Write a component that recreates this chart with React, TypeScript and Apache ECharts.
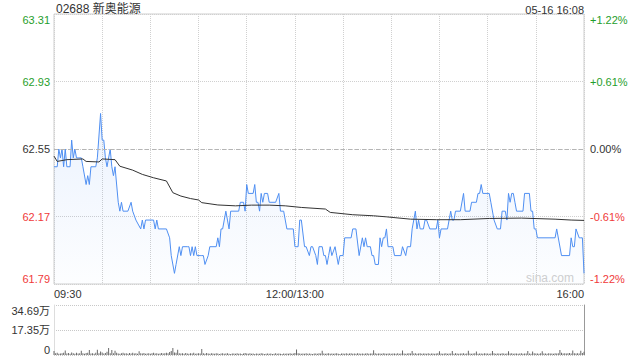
import React, { useEffect, useRef } from "react";
import * as echarts from "echarts";

const prevClose = 62.55;
const titleText = "02688 新奥能源";
const dateText = "05-16 16:08";
const priceTicks = ["61.79", "62.17", "62.55", "62.93", "63.31"];
const pctTicks = ["-1.22%", "-0.61%", "0.00%", "+0.61%", "+1.22%"];
const volTicks = ["0", "17.35万", "34.69万"];
const timeLabels: Record<number, string> = { 0: "09:30", 150: "12:00/13:00", 330: "16:00" };

// minute index (0 = 09:30, 150 = 12:00/13:00, 330 = 16:00) and price
const priceT = [
  0, 2, 3, 4, 5, 6, 7, 8, 10, 11, 12, 13, 14, 15, 17, 18, 20, 21, 22, 23, 26, 27, 29, 30, 31, 32, 33, 35, 36, 37, 38,
  40, 41, 42, 43, 46, 48, 49, 51, 54, 55, 56, 57, 62, 63, 64, 65, 70, 72, 73, 75, 76, 78, 79, 80, 83,
  84, 85, 86, 87, 88, 89, 91, 92, 93, 94, 96, 97, 101, 102, 103, 104, 105, 106, 107, 108, 109, 110, 115, 116, 118, 119,
  120, 121, 124, 125, 126, 127, 128, 129, 130, 131, 133, 134, 138, 140, 141, 143, 145, 149, 150, 152, 153, 154, 156, 157,
  159, 160, 161, 163, 164, 165, 167, 168, 169, 170, 171, 172, 173, 175, 176, 177, 178, 180, 181, 185, 186, 188, 190,
  192, 193, 194, 195, 197, 198, 199, 200, 202, 203, 204, 205, 206, 207, 208, 211, 212, 216, 217, 219, 220, 222, 223, 224,
  225, 226, 227, 228, 230, 231, 232, 234, 238, 239, 240, 241, 245, 247, 248, 249, 250, 253, 255, 256, 259, 260, 263, 264,
  265, 266, 267, 271, 272, 274, 276, 278, 279, 281, 282, 283, 284, 285, 286, 287, 288, 292, 293, 296, 297, 298, 299, 300,
  301, 312, 313, 316, 321, 322, 323, 324, 325, 327, 328, 329, 330,
];
const priceV = [
  62.45, 62.45, 62.55, 62.5, 62.55, 62.45, 62.55, 62.45, 62.45, 62.6, 62.5, 62.55, 62.5, 62.5, 62.5, 62.45, 62.35, 62.4, 62.35, 62.45, 62.45, 62.5, 62.75, 62.6, 62.6, 62.5, 62.45, 62.55, 62.45, 62.4, 62.45,
  62.25, 62.2, 62.25, 62.2, 62.2, 62.25, 62.2, 62.15, 62.1, 62.15, 62.1, 62.15, 62.15, 62.1, 62.15, 62.1, 62.1, 62.05, 61.95, 61.85, 61.9, 62.0, 61.95, 62.0, 62.0,
  62.0, 61.95, 62.0, 61.95, 62.0, 61.95, 61.95, 61.95, 61.95, 61.9, 61.95, 62.0, 62.0, 62.05, 62.0, 62.1, 62.1, 62.15, 62.2, 62.15, 62.1, 62.2, 62.2, 62.25, 62.25, 62.2,
  62.35, 62.3, 62.3, 62.35, 62.25, 62.25, 62.2, 62.3, 62.25, 62.3, 62.3, 62.25, 62.25, 62.3, 62.2, 62.2, 62.1, 62.1, 62.0, 62.0, 62.15, 62.15, 62.0, 62.0,
  61.95, 62.0, 62.0, 61.95, 61.9, 62.0, 62.0, 61.95, 61.95, 61.9, 61.95, 62.0, 61.95, 62.0, 61.95, 61.9, 61.95, 61.95, 62.05, 62.05, 62.1, 62.1, 61.95,
  62.05, 62.0, 62.05, 62.0, 62.0, 61.95, 61.95, 61.9, 61.9, 62.05, 62.0, 62.05, 62.05, 62.1, 62.0, 62.0, 61.95, 61.95, 62.0, 61.95, 62.0, 62.0, 62.1, 62.15,
  62.2, 62.1, 62.15, 62.1, 62.1, 62.15, 62.15, 62.1, 62.1, 62.15, 62.05, 62.1, 62.1, 62.2, 62.15, 62.15, 62.2, 62.2, 62.3, 62.2, 62.2, 62.25, 62.25, 62.3,
  62.3, 62.35, 62.3, 62.3, 62.25, 62.15, 62.1, 62.1, 62.2, 62.2, 62.15, 62.3, 62.25, 62.3, 62.3, 62.25, 62.2, 62.2, 62.3, 62.3, 62.2, 62.2, 62.1, 62.1,
  62.05, 62.05, 62.1, 61.95, 61.95, 62.05, 62.0, 62.0, 62.1, 62.05, 62.05, 62.05, 61.85,
];

// average price line
const avgT = [0, 2, 8, 18, 20, 28, 30, 38, 41, 49, 55, 62, 70, 74, 79, 85, 90, 92, 102, 113, 123, 134, 144, 154, 169, 172, 186, 199, 207, 222, 238, 253, 271, 291, 312, 322, 330];
const avgV = [62.51, 62.48, 62.49, 62.494, 62.48, 62.477, 62.494, 62.49, 62.453, 62.431, 62.407, 62.388, 62.37, 62.304, 62.285, 62.271, 62.263, 62.248, 62.235, 62.23, 62.234, 62.234, 62.23, 62.221, 62.212, 62.193, 62.18, 62.174, 62.168, 62.155, 62.152, 62.152, 62.159, 62.161, 62.155, 62.15, 62.148];

// per-minute volume, 万
const volume = [
  2.8, 1.2, 1.5, 0.9, 1.1, 1.3, 1.6, 3.2, 1.0, 1.4, 0.8, 1.7, 1.2, 0.9, 1.5, 1.1, 1.3, 3.0, 1.2, 0.9, 1.4, 1.6, 3.4, 1.1, 1.3, 0.8, 1.5, 3.6, 1.2, 2.4,
  1.8, 1.1, 1.4, 2.2, 4.8, 1.3, 3.5, 1.2, 3.0, 1.6, 1.1, 0.9, 1.3, 1.5, 1.0, 1.2, 0.8, 1.4, 1.1, 1.6, 1.0, 1.3, 0.9, 2.6, 1.2, 1.0, 1.4, 0.8, 1.1, 1.3,
  0.9, 1.2, 1.5, 1.0, 1.3, 0.8, 1.1, 1.4, 1.0, 1.2, 1.6, 1.3, 2.0, 2.8, 4.9, 1.8, 1.5, 3.6, 1.2, 1.0, 1.3, 0.9, 1.4, 1.1, 0.8, 1.2, 1.0, 1.5, 0.9, 1.1,
  1.3, 1.0, 4.2, 1.2, 0.9, 1.4, 1.0, 0.8, 1.2, 1.1, 0.9, 1.3, 1.0, 0.7, 1.1, 1.2, 0.8, 1.0, 1.3, 0.9, 0.7, 1.1, 1.0, 0.8, 1.2, 0.9, 1.0, 0.7, 1.1, 1.4,
  1.0, 0.8, 1.2, 0.9, 1.1, 0.7, 1.0, 0.9, 0.8, 1.2, 1.0, 0.7, 0.9, 1.1, 0.8, 1.0, 0.7, 0.9, 1.2, 0.8, 1.0, 0.9, 0.7, 1.1, 0.8, 1.0, 0.9, 1.2, 0.8, 1.0,
  1.4, 3.8, 1.2, 1.0, 0.8, 1.1, 0.9, 1.2, 0.8, 1.0, 0.9, 0.7, 1.1, 1.0, 0.8, 1.2, 1.0, 2.9, 1.1, 0.8, 1.0, 1.3, 0.9, 1.1, 0.8, 1.0, 1.2, 0.9, 0.7, 1.1,
  1.0, 0.8, 1.2, 0.9, 1.1, 1.3, 0.8, 1.0, 0.9, 1.2, 1.0, 0.8, 1.1, 0.9, 1.0, 1.2, 0.8, 1.1, 1.0, 3.3, 1.2, 0.9, 1.0, 1.1, 0.8, 1.3, 1.0, 0.9, 1.1, 1.0,
  0.8, 1.1, 1.0, 0.9, 1.2, 0.8, 1.0, 3.1, 1.1, 0.9, 1.0, 1.2, 1.0, 2.8, 1.1, 1.3, 0.9, 1.0, 1.2, 0.8, 1.1, 1.0, 0.9, 1.2, 0.8, 1.0, 1.1, 0.9, 1.0, 1.3,
  2.6, 1.0, 0.9, 1.1, 1.2, 0.8, 1.0, 1.1, 2.7, 0.9, 1.2, 1.0, 0.8, 1.1, 1.0, 1.3, 0.9, 1.0, 2.9, 1.1, 0.8, 1.0, 1.2, 2.5, 0.9, 1.1, 1.0, 0.8, 1.2, 1.0,
  1.1, 0.9, 1.0, 2.8, 1.2, 0.9, 1.1, 1.0, 0.8, 1.2, 1.0, 0.9, 1.1, 2.6, 1.0, 1.2, 0.9, 1.0, 1.1, 0.8, 1.0, 1.2, 0.9, 1.1, 1.0, 2.7, 1.1, 0.9, 2.4, 1.2,
  1.0, 1.1, 0.9, 1.2, 2.6, 1.0, 1.1, 0.9, 1.2, 1.0, 1.1, 0.9, 1.3, 1.0, 1.2, 3.4, 1.5, 1.1, 1.3, 1.0, 1.2, 1.4, 1.1, 3.1, 1.2, 1.0, 1.3, 1.1, 2.9, 1.4, 2.2,
];

const FONT = '"Liberation Sans", Arial, "Noto Sans CJK SC", sans-serif';
const GREEN = "#1f9e2c";
const RED = "#f03a3a";
const DARK = "#333";

const PSTEP = 0.38;
const PMIN = -2 * PSTEP;
const PMAX = 2 * PSTEP;
const tickIdx = (v: number) => Math.round((v - PMIN) / PSTEP);
const tickColor = (v: any) => {
  const n = Number(v);
  if (Math.abs(n) < 1e-6) return DARK;
  return n > 0 ? GREEN : RED;
};

export default function App() {
  const ref = useRef<HTMLDivElement>(null);
  useEffect(() => {
    if (!ref.current) return;
    const chart = echarts.init(ref.current, null, { renderer: "svg" });
    const priceData = priceT.map((t, i) => [t, +(priceV[i] - prevClose).toFixed(4)]);
    const avgData = avgT.map((t, i) => [t, +(avgV[i] - prevClose).toFixed(4)]);
    const volData = volume.map((v, i) => [i, v]);
    const VSTEP = 34.69 / 2;

    chart.setOption({
      animation: false,
      textStyle: { fontFamily: FONT },
      grid: [
        { left: 54, top: 14, width: 530, height: 270, show: true, borderColor: "#cfcfcf", borderWidth: 1 },
        { left: 54, top: 305, width: 530, height: 50 },
      ],
      graphic: [
        { type: "text", left: 56, top: 3, style: { text: titleText, fontSize: 12, fill: DARK, fontFamily: FONT } },
        { type: "text", right: 56, top: 4, style: { text: dateText, fontSize: 11, fill: DARK, fontFamily: FONT } },
        { type: "text", right: 66, top: 272, style: { text: "sina.com", fontSize: 12, fill: "#cfcfcf", fontFamily: FONT } },
      ],
      xAxis: [
        {
          type: "value", gridIndex: 0, min: 0, max: 330, interval: 30,
          axisLine: { show: false }, axisTick: { show: false },
          splitLine: { show: true, lineStyle: { type: "dotted", color: "#d0d0d0", width: 1 } },
          axisLabel: {
            interval: 0, margin: 4, fontSize: 11, color: DARK, fontFamily: FONT,
            showMinLabel: true, showMaxLabel: true,
            alignMinLabel: "left", alignMaxLabel: "right",
            formatter: (v: number) => timeLabels[Math.round(v)] || "",
          },
        },
        {
          type: "value", gridIndex: 1, min: 0, max: 330, interval: 30,
          axisLine: { show: false }, axisTick: { show: false }, axisLabel: { show: false },
          splitLine: { show: false },
        },
      ],
      yAxis: [
        {
          type: "value", gridIndex: 0, position: "left", min: PMIN, max: PMAX, interval: PSTEP,
          axisLine: { show: false }, axisTick: { show: false },
          splitLine: { show: true, lineStyle: { type: "dotted", color: "#d0d0d0", width: 1 } },
          axisLabel: {
            margin: 4, fontSize: 11, fontFamily: FONT, color: tickColor,
            showMinLabel: true, showMaxLabel: true,
            verticalAlignMinLabel: "bottom", verticalAlignMaxLabel: "top",
            formatter: (v: number) => priceTicks[tickIdx(v)] ?? "",
          },
        },
        {
          type: "value", gridIndex: 0, position: "right", min: PMIN, max: PMAX, interval: PSTEP,
          axisLine: { show: false }, axisTick: { show: false }, splitLine: { show: false },
          axisLabel: {
            margin: 6, fontSize: 11, fontFamily: FONT, color: tickColor,
            showMinLabel: true, showMaxLabel: true,
            verticalAlignMinLabel: "bottom", verticalAlignMaxLabel: "top",
            formatter: (v: number) => pctTicks[tickIdx(v)] ?? "",
          },
        },
        {
          type: "value", gridIndex: 1, position: "left", min: 0, max: 34.69, interval: VSTEP,
          axisLine: { show: true, lineStyle: { color: "#dddddd" } }, axisTick: { show: false },
          splitLine: { show: true, lineStyle: { type: "dotted", color: "#c8c8c8", width: 1 } },
          axisLabel: {
            margin: 4, fontSize: 11, fontFamily: FONT, color: DARK,
            showMinLabel: true, showMaxLabel: true,
            verticalAlignMinLabel: "bottom", verticalAlignMaxLabel: "top",
            formatter: (v: number) => volTicks[Math.round(v / VSTEP)] ?? "",
          },
        },
        {
          type: "value", gridIndex: 1, position: "right", min: 0, max: 34.69, interval: VSTEP,
          axisLine: { show: true, lineStyle: { color: "#999999" } }, axisTick: { show: false },
          splitLine: { show: false }, axisLabel: { show: false },
        },
      ],
      series: [
        {
          type: "line", xAxisIndex: 0, yAxisIndex: 0, data: priceData, symbol: "none",
          lineStyle: { color: "#4f8ff2", width: 1 },
          areaStyle: {
            origin: "start",
            color: new echarts.graphic.LinearGradient(0, 0, 0, 1, [
              { offset: 0, color: "rgba(79,143,242,0.16)" },
              { offset: 1, color: "rgba(79,143,242,0.02)" },
            ]),
          },
          markLine: {
            silent: true, symbol: "none", label: { show: false },
            lineStyle: { type: [4, 3], color: "#b5b5b5", width: 1 },
            data: [{ yAxis: 0 }],
          },
          z: 3,
        },
        {
          type: "line", xAxisIndex: 0, yAxisIndex: 0, data: avgData, symbol: "none",
          lineStyle: { color: "#333333", width: 1 }, z: 4,
        },
        {
          type: "bar", xAxisIndex: 1, yAxisIndex: 2, data: volData, barWidth: 1,
          itemStyle: { color: "#6a6a6a" },
        },
      ],
    });
    return () => chart.dispose();
  }, []);
  return (
    <div
      ref={ref}
      style={{ position: "fixed", left: 0, top: 0, width: 640, height: 360, background: "#fff" }}
    />
  );
}
